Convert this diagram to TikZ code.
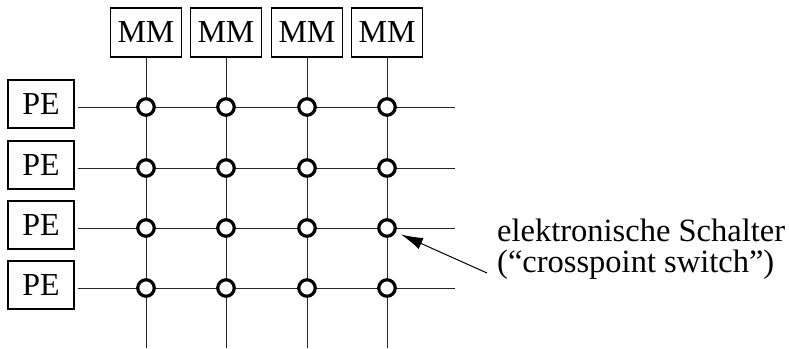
\documentclass[tikz,border=0pt]{standalone}
\usepackage{fontspec}
\setmainfont{Liberation Serif}
\usetikzlibrary{arrows.meta}
\begin{document}
\begin{tikzpicture}[x=1pt,y=-1pt,
  box/.style={draw,line width=1.2pt,inner sep=0pt,font=\fontsize{32}{36}\selectfont},
  mmbox/.style={box,minimum width=71pt,minimum height=49pt},
  pebox/.style={box,minimum width=66pt,minimum height=48pt},
  wire/.style={line width=1pt,draw=black!85},
  sw/.style={circle,draw,line width=3.2pt,fill=white,inner sep=0pt,minimum size=16.5pt}]
\useasboundingbox (0,0) rectangle (789,348);
% MM boxes
\foreach \j/\x in {1/146,2/226,3/307,4/387}{
  \node[mmbox] (mm\j) at (\x,32.5) {MM};
  \coordinate (be\j) at (\x,348);
}
% PE boxes
\foreach \i/\y in {1/107,2/168,3/228,4/288}{
  \node[pebox] (pe\i) at (41,\y-3) {PE};
  \coordinate (ls\i) at (78,\y);
  \coordinate (re\i) at (455,\y);
}
% wires
\foreach \i in {1,...,4}{ \draw[wire] (ls\i) -- (re\i); }
\foreach \j in {1,...,4}{ \draw[wire] (mm\j.south) -- (be\j); }
% switches
\foreach \i/\y in {1/107,2/168,3/228,4/288}{
  \foreach \j/\x in {1/146,2/226,3/307,4/387}{
    \node[sw] (s\i\j) at (\x,\y) {};
  }
}
% label
\node[anchor=base west,align=left,inner sep=0pt,
  font=\fontsize{32.5}{31}\selectfont] (lbl) at (497,272)
  {elektronische Schalter\\(“crosspoint switch”)};
\coordinate (tail) at (487,273);
\coordinate (tip) at (401,234.5);
\draw[line width=1pt,-{Latex[length=22pt,width=12pt]}] (tail) -- (tip);
\end{tikzpicture}
\end{document}
